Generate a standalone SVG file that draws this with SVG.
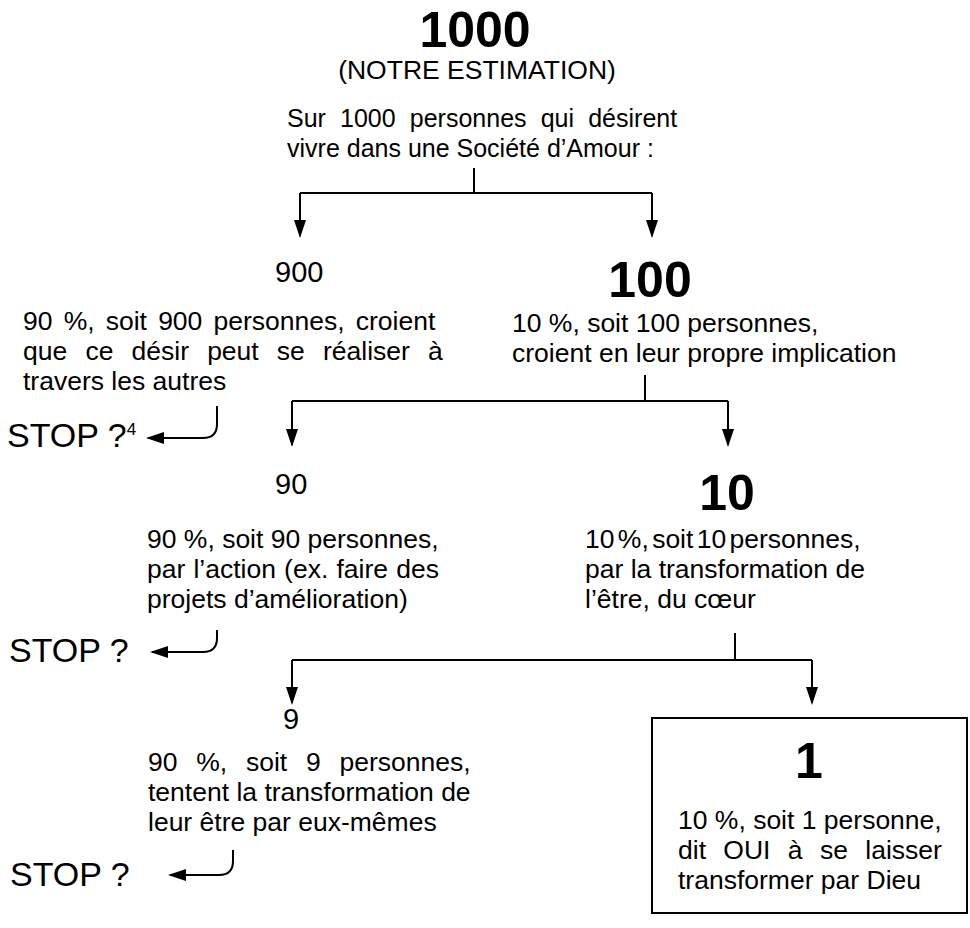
<svg xmlns="http://www.w3.org/2000/svg" width="970" height="928" viewBox="0 0 970 928">
<defs>
<style>
text{font-family:"Liberation Sans",Arial,Helvetica,sans-serif;fill:#000}
.big{font-size:50px;font-weight:bold}
.num{font-size:29px}
.body{font-size:26.5px}
.top{font-size:25px}
.stop{font-size:34px}
.ln{fill:none;stroke:#000;stroke-width:2}
.box{fill:#fff;stroke:#000;stroke-width:2}
</style>
<marker id="ah" markerUnits="userSpaceOnUse" markerWidth="18" markerHeight="12" refX="16" refY="6" orient="auto"><path d="M0,0 L18,6 L0,12 z" fill="#000"/></marker>
</defs>
<rect width="970" height="928" fill="#fff"/>
<g id="connectors">
<path class="ln" d="M474,168 V193 M300,193 H652"/>
<path class="ln" d="M300,193 V236" marker-end="url(#ah)"/>
<path class="ln" d="M652,193 V236" marker-end="url(#ah)"/>
<path class="ln" d="M645,375 V401 M292,401 H728"/>
<path class="ln" d="M292,401 V445" marker-end="url(#ah)"/>
<path class="ln" d="M728,401 V445" marker-end="url(#ah)"/>
<path class="ln" d="M735,633 V660 M292,660 H812"/>
<path class="ln" d="M292,660 V703" marker-end="url(#ah)"/>
<path class="ln" d="M812,660 V703" marker-end="url(#ah)"/>
<path class="ln" d="M217,406 V424 Q217,438 203,438 H148" marker-end="url(#ah)"/>
<path class="ln" d="M217,630 V638 Q217,652 203,652 H152" marker-end="url(#ah)"/>
<path class="ln" d="M233,850 V861 Q233,875 219,875 H170" marker-end="url(#ah)"/>
</g>
<g id="n1000">
<text class="big" x="475" y="47" text-anchor="middle">1000</text>
<text class="body" x="477" y="79" text-anchor="middle">(NOTRE ESTIMATION)</text>
<text class="top" x="287" y="127" word-spacing="7.2">Sur 1000 personnes qui désirent</text>
<text class="top" x="287" y="157">vivre dans une Société d’Amour :</text>
</g>
<g id="n900">
<text class="num" x="275" y="282">900</text>
<text class="body" x="23" y="330" word-spacing="3.8">90 %, soit 900 personnes, croient</text>
<text class="body" x="23" y="360" word-spacing="10.8">que ce désir peut se réaliser à</text>
<text class="body" x="23" y="390">travers les autres</text>
</g>
<g id="n100">
<text class="big" x="650" y="297" text-anchor="middle">100</text>
<text class="body" x="512" y="332">10 %, soit 100 personnes,</text>
<text class="body" x="512" y="362">croient en leur propre implication</text>
</g>
<g id="stop1">
<text class="stop" x="7" y="447">STOP ?<tspan font-size="17" dy="-12">4</tspan></text>
</g>
<g id="n90">
<text class="num" x="275" y="494">90</text>
<text class="body" x="147" y="548">90 %, soit 90 personnes,</text>
<text class="body" x="147" y="578" word-spacing="0.8">par l’action (ex. faire des</text>
<text class="body" x="147" y="608">projets d’amélioration)</text>
</g>
<g id="n10">
<text class="big" x="727" y="510" text-anchor="middle">10</text>
<text class="body" x="585" y="548" word-spacing="-4">10 %, soit 10 personnes,</text>
<text class="body" x="585" y="578">par la transformation de</text>
<text class="body" x="585" y="608">l’être, du cœur</text>
</g>
<g id="stop2">
<text class="stop" x="9" y="662">STOP ?</text>
</g>
<g id="n9">
<text class="num" x="283" y="729">9</text>
<text class="body" x="148" y="771" word-spacing="11.4">90 %, soit 9 personnes,</text>
<text class="body" x="148" y="801">tentent la transformation de</text>
<text class="body" x="148" y="831">leur être par eux-mêmes</text>
</g>
<g id="stop3">
<text class="stop" x="10" y="886">STOP ?</text>
</g>
<g id="n1">
<rect class="box" x="652" y="718" width="315" height="195"/>
<text class="big" x="809" y="778" text-anchor="middle">1</text>
<text class="body" x="678" y="829">10 %, soit 1 personne,</text>
<text class="body" x="678" y="859" word-spacing="10">dit OUI à se laisser</text>
<text class="body" x="678" y="889">transformer par Dieu</text>
</g>
</svg>
